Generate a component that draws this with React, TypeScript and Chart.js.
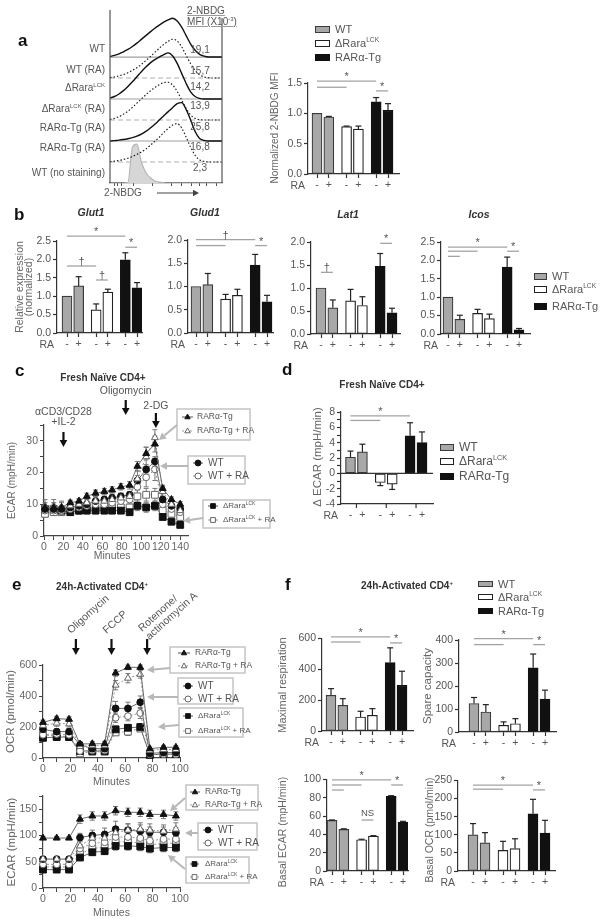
import React, { useEffect, useRef } from "react";
import { Chart, registerables } from "chart.js";

Chart.register(...registerables);

const FONT = "'Liberation Sans', Arial, Helvetica, sans-serif";
Chart.defaults.font.family = FONT;

/* ============================ DATA ============================ */
const raSigns = ["-", "+", "-", "+", "-", "+"];

// ---- panel a: 2-NBDG histograms (offset rows, top to bottom)
const histRows = [
  { name: "WT" },
  { name: "WT (RA)" },
  { name: "ΔRara", sup: "LCK" },
  { name: "ΔRara", sup: "LCK", tail: " (RA)" },
  { name: "RARα-Tg (RA)" },
  { name: "RARα-Tg (RA)" },
  { name: "WT (no staining)" },
];
const histMFI = [19.1, 15.7, 14.2, 13.9, 25.8, 16.8, 2.3];
const histBins = [0, 4, 8, 12, 16, 20, 24, 28, 32, 36, 40, 44, 48, 52, 56, 60, 64, 68, 72, 76, 80, 84, 88, 92, 96, 100];
const histTicks = [4, 7, 10, 21, 38, 55, 64, 73, 80, 86, 95];
const histWT = [0.03, 0.08, 0.15, 0.25, 0.36, 0.5, 0.66, 0.84, 1.02, 1.2, 1.37, 1.52, 1.66, 1.77, 1.85, 1.72, 1.42, 1.02, 0.62, 0.32, 0.13, 0.04, 0, 0, 0, 0];
const histWTRA = [0.02, 0.05, 0.1, 0.17, 0.25, 0.36, 0.49, 0.65, 0.83, 1.02, 1.22, 1.42, 1.6, 1.75, 1.85, 1.76, 1.48, 1.08, 0.68, 0.36, 0.15, 0.05, 0.01, 0, 0, 0];
const histKO = [0.05, 0.12, 0.24, 0.4, 0.6, 0.82, 1.06, 1.3, 1.52, 1.72, 1.88, 2.0, 2.12, 2.2, 2.05, 1.7, 1.22, 0.74, 0.34, 0.12, 0.03, 0, 0, 0, 0, 0];
const histKORA = [0.03, 0.08, 0.16, 0.28, 0.42, 0.6, 0.8, 1.0, 1.2, 1.38, 1.55, 1.68, 1.78, 1.8, 1.66, 1.36, 0.95, 0.55, 0.24, 0.08, 0.02, 0, 0, 0, 0, 0];
const histTg = [0, 0.02, 0.04, 0.07, 0.11, 0.16, 0.23, 0.33, 0.46, 0.62, 0.8, 1.0, 1.2, 1.4, 1.6, 1.78, 1.83, 1.5, 1.0, 0.45, 0.12, 0.03, 0, 0, 0, 0];
const histTgRA = [0.02, 0.04, 0.07, 0.12, 0.18, 0.26, 0.36, 0.48, 0.62, 0.8, 0.98, 1.18, 1.4, 1.6, 1.76, 1.83, 1.62, 1.18, 0.7, 0.32, 0.1, 0.03, 0, 0, 0, 0];
const histNS = [0, 0, 0, 0, 0.02, 1.7, 1.85, 1.0, 0.5, 0.25, 0.1, 0.04, 0.01, 0, 0, 0, 0, 0, 0, 0, 0, 0, 0, 0, 0, 0];

// ---- panel a: normalized 2-NBDG MFI
const nbdgMean = [1.0, 0.94, 0.78, 0.74, 1.19, 1.05];
const nbdgErr = [0, 0.01, 0.01, 0.05, 0.07, 0.11];
const nbdgSig = [{ a: 0, b: 4, y: 1.53, text: "*" }, { a: 0, b: 2, y: 1.43 }, { a: 4, b: 5, y: 1.37, text: "*" }];

// ---- panel b: relative expression
const glut1Mean = [1.0, 1.28, 0.63, 1.11, 1.99, 1.23];
const glut1Err = [0, 0.25, 0.16, 0.08, 0.19, 0.14];
const glut1Sig = [{ a: 0, b: 4, y: 2.63, text: "*" }, { a: 0, b: 2, y: 1.82, text: "†" }, { a: 2, b: 3, y: 1.44, text: "†" }, { a: 4, b: 5, y: 2.33, text: "*" }];
const glud1Mean = [1.0, 1.04, 0.73, 0.81, 1.46, 0.67];
const glud1Err = [0, 0.24, 0.1, 0.13, 0.23, 0.14];
const glud1Sig = [{ a: 0, b: 4, y: 2.01, text: "†" }, { a: 0, b: 2, y: 1.88 }, { a: 4, b: 5, y: 1.88, text: "*" }];
const lat1Mean = [1.0, 0.57, 0.72, 0.62, 1.47, 0.46];
const lat1Err = [0, 0.17, 0.25, 0.19, 0.28, 0.1];
const lat1Sig = [{ a: 0, b: 1, y: 1.34, text: "†" }, { a: 4, b: 5, y: 1.97, text: "*" }];
const icosMean = [1.0, 0.4, 0.56, 0.42, 1.82, 0.11];
const icosErr = [0, 0.11, 0.11, 0.12, 0.27, 0.04];
const icosSig = [{ a: 0, b: 4, y: 2.36, text: "*" }, { a: 0, b: 2, y: 2.25 }, { a: 0, b: 1, y: 2.11 }, { a: 4, b: 5, y: 2.25, text: "*" }];

// ---- panel c: ECAR time course (fresh naive CD4+)
const tC = [1, 10, 18, 27, 36, 44, 53, 62, 70, 79, 88, 96, 105, 114, 122, 131, 140];
const cTg = [9, 9, 9, 10.5, 11, 12.5, 13.5, 14, 14.5, 15.5, 16, 22, 26, 29, 15, 11.5, 10];
const cTgErr = [1.5, 1.5, 1.5, 0.8, 0.8, 1, 1, 1, 1, 1, 1.2, 1.5, 2, 2.5, 1, 0.8, 0.8];
const cTgRA = [9.5, 9.5, 9, 9.5, 10, 10.5, 11, 11, 11.5, 12, 12.5, 18, 25, 31, 14, 10, 8];
const cTgRAErr = [2, 2, 2, 1.5, 1.5, 1.5, 1.5, 1.5, 1.5, 1.5, 1.5, 2.5, 3, 2.5, 1.5, 1.2, 1.2];
const cWT = [8.5, 8.5, 8.5, 9, 9.5, 10, 11, 11.5, 12, 12.5, 13, 17.5, 21, 23.5, 11.5, 9.5, 8.5];
const cWTErr = [1, 1, 1, 1, 1, 1, 1, 1, 1, 1, 1, 1.5, 1.5, 1.5, 1, 1, 1];
const cWTRA = [8, 8, 8, 8.5, 9, 9.5, 10, 10, 10.5, 11, 11.5, 15.5, 18.5, 21, 10, 8.5, 7.5];
const cWTRAErr = [1.5, 1.5, 1.5, 1.5, 1.5, 1.5, 1.5, 1.5, 1.5, 1.5, 1.5, 2.5, 3, 3.5, 1.5, 1.5, 1.5];
const cKO = [8.5, 8.5, 8, 7.5, 8, 8, 8, 8, 8, 8, 7.5, 9.5, 9, 9.5, 6, 4.5, 3.5];
const cKOErr = [1, 1, 1, 1, 1, 1, 1, 1, 1, 1, 1, 1.5, 1.5, 1.5, 0.8, 0.6, 0.5];
const cKORA = [7, 7.5, 7.5, 8, 8, 8.5, 8.5, 9, 9, 9, 9, 12.5, 13, 13, 8, 7, 6];
const cKORAErr = [1, 1, 1, 1, 1, 1, 1, 1, 1, 1, 1, 2, 2, 2, 1, 1, 1];

// ---- panel d: delta ECAR
const dEcarMean = [2.1, 2.8, -1.2, -1.4, 4.9, 4.0];
const dEcarErr = [0.8, 1.0, 0.4, 0.7, 1.7, 1.4];
const dEcarSig = [{ a: 0, b: 4, y: 7.5, text: "*" }, { a: 0, b: 2, y: 6.9 }];

// ---- panel e: OCR / ECAR time course (24h activated)
const tE = [0, 10, 19, 27, 36, 45, 53, 62, 71, 78, 88, 97];
const ocrTg = [230, 254, 250, 90, 92, 92, 548, 585, 585, 60, 69, 69];
const ocrTgErr = [15, 15, 15, 15, 15, 15, 20, 15, 15, 10, 10, 10];
const ocrTgRA = [210, 225, 220, 75, 80, 80, 470, 515, 540, 50, 55, 55];
const ocrTgRAErr = [20, 20, 20, 15, 15, 15, 30, 30, 25, 10, 10, 10];
const ocrWT = [185, 170, 170, 85, 60, 60, 320, 320, 360, 30, 35, 35];
const ocrWTErr = [20, 20, 20, 15, 15, 15, 45, 40, 40, 10, 10, 10];
const ocrWTRA = [150, 155, 150, 45, 50, 50, 260, 270, 290, 25, 25, 25];
const ocrWTRAErr = [20, 20, 20, 15, 15, 15, 30, 30, 35, 10, 10, 10];
const ocrKO = [130, 135, 135, 45, 45, 45, 185, 195, 200, 20, 25, 25];
const ocrKOErr = [15, 15, 15, 10, 10, 10, 20, 20, 20, 8, 8, 8];
const ocrKORA = [150, 140, 140, 30, 40, 40, 165, 170, 190, 20, 25, 25];
const ocrKORAErr = [15, 15, 15, 10, 10, 10, 20, 25, 20, 8, 8, 8];

const ecarTg = [95, 95, 95, 131, 137, 137, 147, 144, 144, 140, 140, 137];
const ecarTgErr = [3, 3, 3, 8, 8, 8, 8, 8, 8, 8, 8, 8];
const ecarTgRA = [55, 55, 55, 80, 95, 95, 105, 110, 112, 110, 108, 112];
const ecarTgRAErr = [5, 5, 5, 10, 10, 10, 12, 12, 12, 12, 12, 12];
const ecarWT = [55, 55, 55, 96, 100, 102, 112, 110, 108, 106, 106, 105];
const ecarWTErr = [4, 4, 4, 8, 10, 12, 15, 12, 12, 10, 10, 10];
const ecarWTRA = [45, 45, 45, 75, 85, 87, 97, 97, 95, 90, 93, 93];
const ecarWTRAErr = [4, 4, 4, 8, 8, 8, 10, 10, 10, 10, 10, 10];
const ecarKO = [35, 35, 35, 58, 68, 70, 80, 80, 79, 75, 77, 77];
const ecarKOErr = [4, 4, 4, 6, 6, 6, 8, 8, 8, 8, 8, 8];
const ecarKORA = [40, 40, 40, 65, 75, 78, 88, 88, 86, 82, 85, 85];
const ecarKORAErr = [4, 4, 4, 6, 6, 6, 8, 8, 8, 8, 8, 8];

// ---- panel f
const maxRespMean = [232, 167, 91, 102, 444, 297];
const maxRespErr = [43, 43, 37, 43, 96, 91];
const maxRespSig = [{ a: 0, b: 4, y: 611, text: "*" }, { a: 0, b: 2, y: 578 }, { a: 4, b: 5, y: 572, text: "*" }];
const spareMean = [124, 87, 29, 36, 279, 143];
const spareErr = [26, 32, 15, 22, 60, 39];
const spareSig = [{ a: 0, b: 4, y: 406, text: "*" }, { a: 0, b: 2, y: 380 }, { a: 4, b: 5, y: 380, text: "*" }];
const basalEcarMean = [55.3, 45.5, 34.2, 38.2, 81.5, 53.5];
const basalEcarErr = [0.5, 0.6, 0.5, 0.4, 0.8, 0.8];
const basalEcarSig = [{ a: 0, b: 4, y: 99.5, text: "*" }, { a: 0, b: 2, y: 94 }, { a: 0, b: 1, y: 88.5 }, { a: 4, b: 5, y: 94, text: "*" }, { a: 2, b: 3, y: 55.7, text: "NS" }];
const basalOcrMean = [100, 78, 57, 62, 158, 105];
const basalOcrErr = [31, 28, 25, 27, 40, 35];
const basalOcrSig = [{ a: 0, b: 4, y: 237, text: "*" }, { a: 0, b: 2, y: 226 }, { a: 4, b: 5, y: 224, text: "*" }];

/* ============================ STYLE ============================ */
const barFill = ["#a8a8a8", "#a8a8a8", "#ffffff", "#ffffff", "#111111", "#111111"];
const barEdge = ["#3a3a3a", "#3a3a3a", "#222222", "#222222", "#111111", "#111111"];
const barPos = (i: number) => Math.floor(i / 2) * 2.5 + (i % 2);
const AX = "#333";
const TICKC = "#555";

type Part = { t: string; sup?: boolean };
const seriesLabels: Part[][] = [
  [{ t: "RARα-Tg" }],
  [{ t: "RARα-Tg + RA" }],
  [{ t: "WT" }],
  [{ t: "WT + RA" }],
  [{ t: "ΔRara" }, { t: "LCK", sup: true }],
  [{ t: "ΔRara" }, { t: "LCK", sup: true }, { t: " + RA" }],
];
const seriesShape = ["triangle", "triangle", "circle", "circle", "rect", "rect"];
const seriesFilled = [true, false, true, false, true, false];

/* ============================ DRAW HELPERS ============================ */
function line(ctx: any, x1: number, y1: number, x2: number, y2: number, color: string, w: number, dash: number[] = []) {
  ctx.save();
  ctx.strokeStyle = color;
  ctx.lineWidth = w;
  ctx.setLineDash(dash);
  ctx.beginPath();
  ctx.moveTo(x1, y1);
  ctx.lineTo(x2, y2);
  ctx.stroke();
  ctx.restore();
}
function arrow(ctx: any, x1: number, y1: number, x2: number, y2: number, color: string, w: number, head: number) {
  const ang = Math.atan2(y2 - y1, x2 - x1);
  const bx = x2 - head * Math.cos(ang);
  const by = y2 - head * Math.sin(ang);
  line(ctx, x1, y1, bx, by, color, w);
  const hw = head * 0.55;
  ctx.save();
  ctx.fillStyle = color;
  ctx.beginPath();
  ctx.moveTo(x2, y2);
  ctx.lineTo(bx + hw * Math.sin(ang), by - hw * Math.cos(ang));
  ctx.lineTo(bx - hw * Math.sin(ang), by + hw * Math.cos(ang));
  ctx.closePath();
  ctx.fill();
  ctx.restore();
}
function text(ctx: any, s: string, x: number, y: number, o: any = {}) {
  ctx.save();
  ctx.font = `${o.bold ? "bold " : ""}${o.size || 10}px ${FONT}`;
  ctx.fillStyle = o.color || "#555";
  ctx.textAlign = o.align || "center";
  ctx.textBaseline = o.baseline || "middle";
  ctx.translate(x, y);
  if (o.rot) ctx.rotate(o.rot);
  ctx.fillText(s, 0, 0);
  ctx.restore();
}
function rich(ctx: any, parts: Part[], x: number, y: number, size: number, color: string) {
  ctx.save();
  ctx.textBaseline = "middle";
  ctx.textAlign = "left";
  ctx.fillStyle = color;
  let cx = x;
  parts.forEach((p) => {
    const sz = p.sup ? size * 0.62 : size;
    ctx.font = `${sz}px ${FONT}`;
    ctx.fillText(p.t, cx, p.sup ? y - size * 0.33 : y);
    cx += ctx.measureText(p.t).width;
  });
  ctx.restore();
}
function marker(ctx: any, shape: string, filled: boolean, x: number, y: number, r: number) {
  ctx.save();
  ctx.beginPath();
  if (shape === "circle") ctx.arc(x, y, r, 0, Math.PI * 2);
  else if (shape === "rect") ctx.rect(x - r * 0.8, y - r * 0.8, r * 1.6, r * 1.6);
  else {
    ctx.moveTo(x, y - r);
    ctx.lineTo(x + r * 0.9, y + r * 0.6);
    ctx.lineTo(x - r * 0.9, y + r * 0.6);
    ctx.closePath();
  }
  ctx.fillStyle = filled ? "#111" : "#fff";
  ctx.fill();
  ctx.strokeStyle = filled ? "#111" : "#555";
  ctx.lineWidth = 0.9;
  ctx.stroke();
  ctx.restore();
}

/* ============================ BAR CHARTS ============================ */
type Sig = { a: number; b: number; y: number; text?: string };
interface BarSpec {
  values: number[];
  errors: number[];
  sigs: Sig[];
  axisX: number;
  xEnd: number;
  yTop: number;
  yBot: number;
  firstBar: number;
  lastBar: number;
  yMin: number;
  yMax: number;
  step: number;
  minor?: number;
  decimals: number;
  title?: string[];
  titleX?: number;
  titleY?: number;
  titleSize?: number;
  groupTicks?: boolean;
}

function barConfig(s: BarSpec) {
  const WY = 44;
  const HX = 22;
  const unit = (s.lastBar - s.firstBar) / 6;
  const xMin = -(s.firstBar - s.axisX) / unit;
  const xMax = 6 + (s.xEnd - s.lastBar) / unit;
  const pos = s.values.map((_, i) => barPos(i));
  const tickStep = s.minor || s.step;
  const plugin = {
    id: "barExtras",
    afterDraw(chart: any) {
      const { ctx, chartArea } = chart;
      const xs = chart.scales.x;
      const ys = chart.scales.y;
      if (s.yMin < 0) {
        const y0 = ys.getPixelForValue(0);
        line(ctx, chartArea.left, y0, chartArea.right, y0, AX, 1.2);
      }
      if (s.groupTicks) {
        [0, 1, 2].forEach((g) => {
          const x = xs.getPixelForValue(g * 2.5 + 0.5);
          line(ctx, x, chartArea.bottom, x, chartArea.bottom + 4, AX, 1.2);
        });
      }
      s.values.forEach((v, i) => {
        const e = s.errors[i];
        if (!e) return;
        const x = xs.getPixelForValue(pos[i]);
        const y0 = ys.getPixelForValue(v);
        const y1 = ys.getPixelForValue(v >= 0 ? v + e : v - e);
        line(ctx, x, y0, x, y1, "#222", 1.2);
        line(ctx, x - 3, y1, x + 3, y1, "#222", 1.2);
      });
      s.sigs.forEach((g) => {
        const xa = xs.getPixelForValue(pos[g.a]);
        const xb = xs.getPixelForValue(pos[g.b]);
        const y = ys.getPixelForValue(g.y);
        line(ctx, xa, y, xb, y, "#a3a3a3", 1.3);
        if (g.text) {
          const isNS = g.text === "NS";
          text(ctx, g.text, (xa + xb) / 2, isNS ? y - 7 : y - 4, { size: isNS ? 9.5 : 11, color: "#555" });
        }
      });
      text(ctx, "RA", s.axisX - 3, chartArea.bottom + 12, { size: 10.5, color: TICKC, align: "right" });
      if (s.title) {
        s.title.forEach((t, k) => {
          text(ctx, t, (s.titleX as number) + k * 9.5, s.titleY as number, { size: s.titleSize || 10.5, color: "#666", rot: -Math.PI / 2 });
        });
      }
    },
  };
  return {
    type: "bar",
    data: {
      datasets: [
        {
          data: s.values.map((v, i) => ({ x: pos[i], y: v })),
          backgroundColor: barFill,
          borderColor: barEdge,
          borderWidth: 1.2,
          borderSkipped: false,
          barThickness: 10,
        },
      ],
    },
    options: {
      responsive: false,
      animation: false,
      events: [],
      layout: { padding: { left: s.axisX - WY, right: 600 - s.xEnd, top: s.yTop, bottom: 921 - s.yBot - HX } },
      plugins: { legend: { display: false }, tooltip: { enabled: false } },
      scales: {
        x: {
          type: "linear",
          min: xMin,
          max: xMax,
          offset: false,
          afterFit: (sc: any) => {
            sc.height = HX;
          },
          afterBuildTicks: (sc: any) => {
            sc.ticks = pos.map((v) => ({ value: v }));
          },
          ticks: {
            autoSkip: false,
            maxRotation: 0,
            callback: (_v: any, i: number) => raSigns[i],
            font: { size: 10.5 },
            color: TICKC,
            padding: 1,
          },
          grid: { display: true, offset: false, drawOnChartArea: false, tickLength: 4, tickColor: s.groupTicks ? "rgba(0,0,0,0)" : AX, tickWidth: 1.2 },
          border: { color: AX, width: 1.2 },
        },
        y: {
          min: s.yMin,
          max: s.yMax,
          afterFit: (sc: any) => {
            sc.width = WY;
          },
          ticks: {
            stepSize: tickStep,
            includeBounds: false,
            autoSkip: false,
            callback: (v: number) => (Math.abs(v / s.step - Math.round(v / s.step)) < 1e-6 ? v.toFixed(s.decimals) : ""),
            font: { size: 10.5 },
            color: TICKC,
            padding: 2,
          },
          grid: { drawOnChartArea: false, tickLength: 4, tickColor: AX, tickWidth: 1.2 },
          border: { color: AX, width: 1.2 },
        },
      },
    },
    plugins: [plugin],
  };
}

/* ============================ LINE CHARTS ============================ */
interface LegendBox {
  x: number;
  y: number;
  w: number;
  h: number;
  items: { si: number; y: number }[];
  mx: [number, number];
  tx: number;
  size: number;
  arrow: [number, number, number, number];
}
interface Injection {
  t: number;
  y1: number;
  y2: number;
  labels?: { text: string; y: number }[];
  rot?: string[];
  rotY?: number;
}
interface LineSpec {
  t: number[];
  values: number[][];
  errors: number[][];
  axisX: number;
  xEnd: number;
  yTop: number;
  yBot: number;
  xMin: number;
  xMax: number;
  yMin: number;
  yMax: number;
  xStep: number;
  xMajor: number;
  yStep: number;
  yMajor: number;
  legends: LegendBox[];
  injections: Injection[];
  yTitle: string;
  yTitleX: number;
  yTitleSize: number;
  minutesY: number;
}

function lineConfig(s: LineSpec) {
  const WY = 40;
  const HX = 18;
  const datasets = s.values.map((vals, k) => ({
    data: s.t.map((x, i) => ({ x, y: vals[i] })),
    borderColor: seriesFilled[k] ? "#6a6a6a" : "#9a9a9a",
    borderWidth: 1,
    borderDash: seriesFilled[k] ? [] : [2, 2],
    pointStyle: seriesShape[k],
    pointRadius: seriesShape[k] === "rect" ? 4.8 : seriesShape[k] === "triangle" ? 4 : 3.4,
    pointBackgroundColor: seriesFilled[k] ? "#111" : "#fff",
    pointBorderColor: seriesFilled[k] ? "#111" : "#666",
    pointBorderWidth: 1,
    tension: 0,
    clip: false,
  }));
  const plugin = {
    id: "lineExtras",
    beforeDatasetsDraw(chart: any) {
      const { ctx } = chart;
      const xs = chart.scales.x;
      const ys = chart.scales.y;
      s.values.forEach((vals, k) => {
        vals.forEach((v, i) => {
          const e = s.errors[k][i];
          const x = xs.getPixelForValue(s.t[i]);
          const ya = ys.getPixelForValue(v - e);
          const yb = ys.getPixelForValue(v + e);
          line(ctx, x, ya, x, yb, "#777", 1);
          line(ctx, x - 2.5, ya, x + 2.5, ya, "#777", 1);
          line(ctx, x - 2.5, yb, x + 2.5, yb, "#777", 1);
        });
      });
    },
    afterDraw(chart: any) {
      const { ctx, chartArea } = chart;
      const xs = chart.scales.x;
      s.legends.forEach((b) => {
        ctx.save();
        ctx.strokeStyle = "#c4c4c4";
        ctx.lineWidth = 1.5;
        ctx.strokeRect(b.x, b.y, b.w, b.h);
        ctx.restore();
        b.items.forEach((it) => {
          const f = seriesFilled[it.si];
          line(ctx, b.mx[0], it.y, b.mx[1], it.y, f ? "#555" : "#999", 1, f ? [] : [2, 2]);
          marker(ctx, seriesShape[it.si], f, (b.mx[0] + b.mx[1]) / 2, it.y, 3);
          rich(ctx, seriesLabels[it.si], b.tx, it.y, b.size, "#555");
        });
        arrow(ctx, b.arrow[0], b.arrow[1], b.arrow[2], b.arrow[3], "#b8b8b8", 2, 7);
      });
      s.injections.forEach((inj) => {
        const x = xs.getPixelForValue(inj.t);
        arrow(ctx, x, inj.y1, x, inj.y2, "#111", 2.2, 7);
        (inj.labels || []).forEach((l) => text(ctx, l.text, x, l.y, { size: 10.5, color: "#555" }));
        (inj.rot || []).forEach((l, k) => {
          const ang = (-42 * Math.PI) / 180;
          const ox = x - 5 + k * 11 * Math.sin(-ang);
          const oy = (inj.rotY as number) + k * 11 * Math.cos(ang);
          text(ctx, l, ox, oy, { size: 10.5, color: "#555", align: "left", baseline: "alphabetic", rot: ang });
        });
      });
      text(ctx, s.yTitle, s.yTitleX, (chartArea.top + chartArea.bottom) / 2, { size: s.yTitleSize, color: "#666", rot: -Math.PI / 2 });
      text(ctx, "Minutes", (chartArea.left + xs.getPixelForValue(s.xMax > 120 ? 140 : 100)) / 2, s.minutesY, { size: 10.5, color: "#666" });
    },
  };
  const fmt = (major: number) => (v: number) => (Math.abs(v / major - Math.round(v / major)) < 1e-6 ? String(v) : "");
  return {
    type: "line",
    data: { datasets },
    options: {
      responsive: false,
      animation: false,
      events: [],
      layout: { padding: { left: s.axisX - WY, right: 600 - s.xEnd, top: s.yTop, bottom: 921 - s.yBot - HX } },
      plugins: { legend: { display: false }, tooltip: { enabled: false } },
      scales: {
        x: {
          type: "linear",
          min: s.xMin,
          max: s.xMax,
          afterFit: (sc: any) => {
            sc.height = HX;
          },
          ticks: { stepSize: s.xStep, includeBounds: false, autoSkip: false, maxRotation: 0, callback: fmt(s.xMajor), font: { size: 10.5 }, color: "#666", padding: 1 },
          grid: { drawOnChartArea: false, tickLength: 4, tickColor: "#444" },
          border: { color: "#444", width: 1.2 },
        },
        y: {
          min: s.yMin,
          max: s.yMax,
          afterFit: (sc: any) => {
            sc.width = WY;
          },
          ticks: { stepSize: s.yStep, includeBounds: false, autoSkip: false, callback: fmt(s.yMajor), font: { size: 10.5 }, color: "#666", padding: 2 },
          grid: { drawOnChartArea: false, tickLength: 4, tickColor: "#444" },
          border: { color: "#444", width: 1.2 },
        },
      },
    },
    plugins: [plugin],
  };
}

/* ============================ HISTOGRAM ============================ */
function histConfig() {
  const curves = [histWT, histWTRA, histKO, histKORA, histTg, histTgRA, histNS];
  const nRows = curves.length;
  const kindOf = (r: number) => (r === nRows - 1 ? "fill" : r % 2 === 0 ? "solid" : "dot");
  const datasets = curves.map((h, r) => {
    const base = nRows - 1 - r;
    const kind = kindOf(r);
    return {
      data: histBins.map((x, i) => ({ x, y: base + h[i] })),
      borderColor: kind === "fill" ? "#b4b4b4" : "#111",
      borderWidth: kind === "solid" ? 1.4 : 1.1,
      borderDash: kind === "dot" ? [1.5, 2] : [],
      backgroundColor: "#d6d6d6",
      fill: kind === "fill" ? "origin" : false,
      pointRadius: 0,
      cubicInterpolationMode: "monotone",
    };
  });
  const plugin = {
    id: "histExtras",
    beforeDatasetsDraw(chart: any) {
      const { ctx, chartArea } = chart;
      const ys = chart.scales.y;
      curves.forEach((_, r) => {
        const kind = kindOf(r);
        if (kind === "fill") return;
        const y = ys.getPixelForValue(nRows - 1 - r);
        line(ctx, chartArea.left, y, chartArea.right, y, kind === "solid" ? "#a0a0a0" : "#b0b0b0", 1.2, kind === "dot" ? [5, 3] : []);
      });
    },
    afterDraw(chart: any) {
      const { ctx, chartArea } = chart;
      line(ctx, chartArea.left, chartArea.top, chartArea.left, chartArea.bottom, "#555", 1.2);
      line(ctx, chartArea.right, chartArea.top + 8, chartArea.right, chartArea.bottom, "#555", 1.2);
      text(ctx, "2-NBDG", 123, 193, { size: 10, color: "#555" });
      arrow(ctx, 157, 193, 199, 193, "#444", 1, 6);
    },
  };
  return {
    type: "line",
    data: { datasets },
    options: {
      responsive: false,
      animation: false,
      events: [],
      layout: { padding: { left: 110, right: 600 - 222, top: 10, bottom: 921 - 183 - 6 } },
      plugins: { legend: { display: false }, tooltip: { enabled: false } },
      scales: {
        x: {
          type: "linear",
          min: 0,
          max: 100,
          afterFit: (sc: any) => {
            sc.height = 6;
          },
          afterBuildTicks: (sc: any) => {
            sc.ticks = histTicks.map((v) => ({ value: v }));
          },
          ticks: { display: false },
          grid: { drawOnChartArea: false, tickLength: 3, tickColor: "#555" },
          border: { color: "#555", width: 1.2 },
        },
        y: { display: false, min: 0, max: 8.24 },
      },
    },
    plugins: [plugin],
  };
}

/* ============================ SPECS ============================ */
const chartMakers: (() => any)[] = [
  histConfig,
  () => barConfig({ values: nbdgMean, errors: nbdgErr, sigs: nbdgSig, axisX: 308, xEnd: 399, yTop: 83, yBot: 174, firstBar: 317, lastBar: 388, yMin: 0, yMax: 1.5, step: 0.5, decimals: 1, title: ["Normalized 2-NBDG MFI"], titleX: 275, titleY: 128, titleSize: 10 }),
  () => barConfig({ values: glut1Mean, errors: glut1Err, sigs: glut1Sig, axisX: 57, xEnd: 142, yTop: 241, yBot: 333, firstBar: 67, lastBar: 137, yMin: 0, yMax: 2.5, step: 0.5, decimals: 1, title: ["Relative expression", "(normalized)"], titleX: 20, titleY: 287, titleSize: 10.5 }),
  () => barConfig({ values: glud1Mean, errors: glud1Err, sigs: glud1Sig, axisX: 188, xEnd: 273, yTop: 240, yBot: 333, firstBar: 196, lastBar: 267, yMin: 0, yMax: 2, step: 0.5, decimals: 1 }),
  () => barConfig({ values: lat1Mean, errors: lat1Err, sigs: lat1Sig, axisX: 311, xEnd: 400, yTop: 242, yBot: 334, firstBar: 321, lastBar: 392, yMin: 0, yMax: 2, step: 0.5, decimals: 1 }),
  () => barConfig({ values: icosMean, errors: icosErr, sigs: icosSig, axisX: 441, xEnd: 530, yTop: 242, yBot: 334, firstBar: 448, lastBar: 519, yMin: 0, yMax: 2.5, step: 0.5, decimals: 1 }),
  () => barConfig({ values: dEcarMean, errors: dEcarErr, sigs: dEcarSig, axisX: 341, xEnd: 433, yTop: 412, yBot: 504, firstBar: 350.5, lastBar: 422, yMin: -4, yMax: 8, step: 2, minor: 1, decimals: 0, title: ["Δ ECAR (mpH/min)"], titleX: 318, titleY: 457, titleSize: 11.5, groupTicks: true }),
  () => barConfig({ values: maxRespMean, errors: maxRespErr, sigs: maxRespSig, axisX: 322, xEnd: 413, yTop: 638.6, yBot: 731, firstBar: 331, lastBar: 402, yMin: 0, yMax: 600, step: 200, decimals: 0, title: ["Maximal respiration"], titleX: 283, titleY: 685, titleSize: 11 }),
  () => barConfig({ values: spareMean, errors: spareErr, sigs: spareSig, axisX: 459, xEnd: 556, yTop: 640, yBot: 732, firstBar: 474, lastBar: 545, yMin: 0, yMax: 400, step: 100, decimals: 0, title: ["Spare capacity"], titleX: 428, titleY: 686, titleSize: 11.5 }),
  () => barConfig({ values: basalEcarMean, errors: basalEcarErr, sigs: basalEcarSig, axisX: 327, xEnd: 408, yTop: 779.5, yBot: 871, firstBar: 332, lastBar: 403, yMin: 0, yMax: 100, step: 20, decimals: 0, title: ["Basal ECAR (mpH/min)"], titleX: 283, titleY: 832, titleSize: 10.5 }),
  () => barConfig({ values: basalOcrMean, errors: basalOcrErr, sigs: basalOcrSig, axisX: 458, xEnd: 555, yTop: 780.5, yBot: 871, firstBar: 473, lastBar: 545, yMin: 0, yMax: 250, step: 50, decimals: 0, title: ["Basal OCR (pmol/min)"], titleX: 430, titleY: 830, titleSize: 10.5 }),
  () =>
    lineConfig({
      t: tC,
      values: [cTg, cTgRA, cWT, cWTRA, cKO, cKORA],
      errors: [cTgErr, cTgRAErr, cWTErr, cWTRAErr, cKOErr, cKORAErr],
      axisX: 44, xEnd: 188, yTop: 425, yBot: 536, xMin: 0, xMax: 148, yMin: 0, yMax: 35,
      xStep: 10, xMajor: 20, yStep: 5, yMajor: 10,
      legends: [
        { x: 177, y: 409, w: 73, h: 31, items: [{ si: 0, y: 417 }, { si: 1, y: 431 }], mx: [182, 193], tx: 197, size: 8.5, arrow: [177, 425, 159, 440] },
        { x: 188, y: 456, w: 57, h: 28, items: [{ si: 2, y: 463 }, { si: 3, y: 476 }], mx: [193, 203], tx: 208, size: 10, arrow: [188, 466, 160, 466] },
        { x: 203, y: 500, w: 67, h: 28, items: [{ si: 4, y: 506 }, { si: 5, y: 520 }], mx: [208, 218], tx: 223, size: 8, arrow: [203, 518, 183, 521] },
      ],
      injections: [
        { t: 20, y1: 432, y2: 447, labels: [{ text: "αCD3/CD28", y: 412 }, { text: "+IL-2", y: 422 }] },
        { t: 84, y1: 400, y2: 415, labels: [{ text: "Oligomycin", y: 391 }] },
        { t: 115, y1: 413, y2: 428, labels: [{ text: "2-DG", y: 406 }] },
      ],
      yTitle: "ECAR (mpH/min)", yTitleX: 12, yTitleSize: 10, minutesY: 556,
    }),
  () =>
    lineConfig({
      t: tE,
      values: [ocrTg, ocrTgRA, ocrWT, ocrWTRA, ocrKO, ocrKORA],
      errors: [ocrTgErr, ocrTgRAErr, ocrWTErr, ocrWTRAErr, ocrKOErr, ocrKORAErr],
      axisX: 43, xEnd: 180, yTop: 665, yBot: 758, xMin: 0, xMax: 100, yMin: 0, yMax: 600,
      xStep: 10, xMajor: 20, yStep: 100, yMajor: 200,
      legends: [
        { x: 170, y: 647, w: 75, h: 26, items: [{ si: 0, y: 653 }, { si: 1, y: 666 }], mx: [178, 190], tx: 195, size: 8.5, arrow: [170, 668, 147, 670] },
        { x: 178, y: 678, w: 55, h: 26, items: [{ si: 2, y: 686 }, { si: 3, y: 699 }], mx: [183, 193], tx: 198, size: 10, arrow: [178, 697, 147, 697] },
        { x: 179, y: 708, w: 64, h: 29, items: [{ si: 4, y: 716 }, { si: 5, y: 731 }], mx: [183, 193], tx: 198, size: 8, arrow: [179, 725, 158, 727] },
      ],
      injections: [
        { t: 24, y1: 639, y2: 655, rot: ["Oligomycin"], rotY: 634 },
        { t: 50, y1: 639, y2: 655, rot: ["FCCP"], rotY: 634 },
        { t: 76, y1: 639, y2: 655, rot: ["Rotenone/", "actinomycin A"], rotY: 632 },
      ],
      yTitle: "OCR (pmol/min)", yTitleX: 11, yTitleSize: 11.5, minutesY: 782,
    }),
  () =>
    lineConfig({
      t: tE,
      values: [ecarTg, ecarTgRA, ecarWT, ecarWTRA, ecarKO, ecarKORA],
      errors: [ecarTgErr, ecarTgRAErr, ecarWTErr, ecarWTRAErr, ecarKOErr, ecarKORAErr],
      axisX: 43, xEnd: 180, yTop: 796, yBot: 888, xMin: 0, xMax: 100, yMin: 0, yMax: 175,
      xStep: 10, xMajor: 20, yStep: 25, yMajor: 50,
      legends: [
        { x: 186, y: 785, w: 72, h: 25, items: [{ si: 0, y: 792 }, { si: 1, y: 805 }], mx: [190, 200], tx: 205, size: 8.5, arrow: [185, 798, 170, 811] },
        { x: 198, y: 823, w: 59, h: 27, items: [{ si: 2, y: 830 }, { si: 3, y: 843 }], mx: [203, 213], tx: 218, size: 10, arrow: [198, 833, 185, 833] },
        { x: 186, y: 857, w: 63, h: 26, items: [{ si: 4, y: 864 }, { si: 5, y: 877 }], mx: [190, 199], tx: 205, size: 8, arrow: [185, 869, 168, 855] },
      ],
      injections: [],
      yTitle: "ECAR (mpH/min)", yTitleX: 12, yTitleSize: 11.5, minutesY: 913,
    }),
];

/* ============================ COMPONENTS ============================ */
function ChartCanvas({ make }: { make: () => any }) {
  const ref = useRef<HTMLCanvasElement>(null);
  useEffect(() => {
    const chart = new Chart(ref.current as HTMLCanvasElement, make());
    return () => chart.destroy();
  }, []);
  return <canvas ref={ref} width={600} height={921} style={{ position: "absolute", left: 0, top: 0, width: 600, height: 921 }} />;
}

function T({ x, y, size = 10, color = "#444", align = "l", bold = false, italic = false, underline = false, children }: any) {
  const tx = align === "l" ? "0" : align === "c" ? "-50%" : "-100%";
  return (
    <div
      style={{
        position: "absolute",
        left: x,
        top: y,
        transform: `translate(${tx}, -50%)`,
        fontSize: size,
        lineHeight: `${size}px`,
        color,
        fontWeight: bold ? 700 : 400,
        fontStyle: italic ? "italic" : "normal",
        textDecoration: underline ? "underline" : "none",
        textDecorationColor: "#999",
        whiteSpace: "nowrap",
      }}
    >
      {children}
    </div>
  );
}
const Sup = ({ children }: any) => <sup style={{ fontSize: "0.6em", verticalAlign: "super", lineHeight: 0 }}>{children}</sup>;

function Swatch({ x, y, w, h, i }: any) {
  return <div style={{ position: "absolute", left: x, top: y, width: w, height: h, boxSizing: "border-box", background: barFill[i * 2], border: `1.2px solid ${barEdge[i * 2]}` }} />;
}
const legendNames = [<>WT</>, <>ΔRara<Sup>LCK</Sup></>, <>RARα-Tg</>];
function BarLegend({ x, ys, w, h, tx, size }: any) {
  return (
    <>
      {ys.map((y: number, i: number) => (
        <React.Fragment key={i}>
          <Swatch x={x} y={y - h / 2} w={w} h={h} i={i} />
          <T x={tx} y={y} size={size} color="#555">
            {legendNames[i]}
          </T>
        </React.Fragment>
      ))}
    </>
  );
}

const histLabelY = [49, 70, 88, 109, 128, 148, 173];
const histNumY = [50, 71, 87, 106, 127, 147, 168];

export default function App() {
  return (
    <div style={{ position: "absolute", left: 0, top: 0, width: 600, height: 921, background: "#fff", fontFamily: FONT, overflow: "hidden" }}>
      {chartMakers.map((mk, i) => (
        <ChartCanvas key={i} make={mk} />
      ))}

      {/* panel letters */}
      <T x={18} y={40} size={17} bold color="#111">a</T>
      <T x={14} y={214} size={17} bold color="#111">b</T>
      <T x={15} y={370} size={17} bold color="#111">c</T>
      <T x={282} y={369} size={17} bold color="#111">d</T>
      <T x={12} y={584} size={17} bold color="#111">e</T>
      <T x={285} y={584} size={17} bold color="#111">f</T>

      {/* a: histogram labels */}
      <T x={206} y={11} size={10} color="#555" align="c" underline>2-NBDG</T>
      <T x={212} y={22} size={10} color="#555" align="c" underline>
        MFI (X10<Sup>-3</Sup>)
      </T>
      {histRows.map((r, i) => (
        <T key={i} x={105} y={histLabelY[i]} size={10} color="#555" align="r">
          {r.name}
          {r.sup ? <Sup>{r.sup}</Sup> : null}
          {r.tail || ""}
        </T>
      ))}
      {histMFI.map((v, i) => (
        <T key={i} x={200} y={histNumY[i]} size={10} color="#555" align="c">
          {v.toFixed(1).replace(".", ",")}
        </T>
      ))}
      <BarLegend x={315} ys={[29, 43, 57]} w={15} h={7} tx={335} size={11} />

      {/* b */}
      <T x={91} y={212} size={10.5} bold italic color="#333" align="c">Glut1</T>
      <T x={205} y={212} size={10.5} bold italic color="#333" align="c">Glud1</T>
      <T x={348} y={214} size={10.5} bold italic color="#333" align="c">Lat1</T>
      <T x={479} y={214} size={10.5} bold italic color="#333" align="c">Icos</T>
      <BarLegend x={534} ys={[276, 289, 306]} w={13} h={7} tx={552} size={11} />

      {/* c / d */}
      <T x={103} y={378} size={10} bold color="#333" align="c">Fresh Naïve CD4+</T>
      <T x={382} y={385} size={10} bold color="#333" align="c">Fresh Naïve CD4+</T>
      <BarLegend x={440} ys={[447, 461, 476]} w={14} h={7} tx={459} size={12} />

      {/* e / f */}
      <T x={102} y={587} size={10} bold color="#333" align="c">24h-Activated CD4<Sup>+</Sup></T>
      <T x={407} y={586} size={10} bold color="#333" align="c">24h-Activated CD4<Sup>+</Sup></T>
      <BarLegend x={478} ys={[584, 597, 611]} w={15} h={6} tx={498} size={11} />
    </div>
  );
}
